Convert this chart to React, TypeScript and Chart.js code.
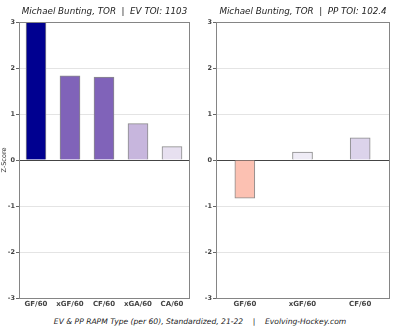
import React, { useEffect, useRef } from "react";
import { Chart, registerables } from "chart.js";

Chart.register(...registerables);

const evCategories = ["GF/60", "xGF/60", "CF/60", "xGA/60", "CA/60"];
const evValues = [3.0, 1.83, 1.8, 0.79, 0.29];
const evColors = ["#000090", "#8063b9", "#8063b9", "#c7b6dd", "#e7e0f0"];

const ppCategories = ["GF/60", "xGF/60", "CF/60"];
const ppValues = [-0.83, 0.17, 0.48];
const ppColors = ["#fcc1b2", "#efecf6", "#dcd3eb"];

const yTicks = [-3, -2, -1, 0, 1, 2, 3];

const evTitle = "Michael Bunting, TOR  |  EV TOI: 1103";
const ppTitle = "Michael Bunting, TOR  |  PP TOI: 102.4";
const footer = "EV & PP RAPM Type (per 60), Standardized, 21-22    |    Evolving-Hockey.com";
const yTitle = "Z-Score";

const FONT = "'DejaVu Sans', sans-serif";

const framePlugin = {
  id: "frame",
  afterDraw(chart: any) {
    const { ctx, chartArea } = chart;
    ctx.save();
    ctx.strokeStyle = "#858585";
    ctx.lineWidth = 1;
    ctx.strokeRect(
      Math.round(chartArea.left) + 0.5,
      Math.round(chartArea.top) + 0.5,
      Math.round(chartArea.right - chartArea.left),
      Math.round(chartArea.bottom - chartArea.top)
    );
    const t = chart.options.plugins.panelTitle;
    if (t && t.text) {
      ctx.fillStyle = "#222";
      ctx.font = `italic 8.75px ${FONT}`;
      ctx.textAlign = "center";
      ctx.textBaseline = "middle";
      ctx.fillText(t.text, (chartArea.left + chartArea.right) / 2 + 0.5, 12);
    }
    ctx.restore();
  },
};

function Panel(props: {
  categories: string[];
  values: number[];
  colors: string[];
  title: string;
  yLabel?: string;
  yWidth: number;
  left: number;
}) {
  const ref = useRef<HTMLCanvasElement>(null);
  useEffect(() => {
    const chart = new Chart(ref.current!, {
      type: "bar",
      data: {
        labels: props.categories,
        datasets: [
          {
            data: props.values,
            backgroundColor: props.colors,
            borderColor: "#8a8a8a",
            borderWidth: 1,
            barThickness: 20,
          },
        ],
      },
      plugins: [framePlugin],
      options: {
        animation: false,
        responsive: false,
        maintainAspectRatio: false,
        layout: { padding: { top: 22, right: 11, bottom: 0, left: 0 } },
        plugins: {
          legend: { display: false },
          tooltip: { enabled: false },
          title: { display: false },
          panelTitle: { text: props.title },
        } as any,
        scales: {
          x: {
            grid: { display: false, drawTicks: false },
            border: { display: false },
            ticks: {
              font: { family: FONT, size: 7, weight: "bold" },
              color: "#444",
              maxRotation: 0,
              autoSkip: false,
              padding: 2,
            },
            afterFit: (s: any) => {
              s.height = 17;
            },
          },
          y: {
            min: -3,
            max: 3,
            afterBuildTicks: (s: any) => {
              s.ticks = yTicks.map((v) => ({ value: v }));
            },
            grid: {
              color: (c: any) =>
                c.tick && c.tick.value === 0 ? "#444" : "#e4e4e4",
              lineWidth: 1,
              drawTicks: true,
              tickLength: 3,
              tickColor: "#666",
            },
            border: { display: false },
            ticks: {
              font: { family: FONT, size: 6.5, weight: "bold" },
              color: "#444",
              padding: 1,
            },
            title: {
              display: !!props.yLabel,
              text: props.yLabel || "",
              font: { family: FONT, size: 6.5 },
              color: "#333",
              padding: 0,
            },
            afterFit: (s: any) => {
              s.width = props.yWidth;
            },
          },
        },
      },
    });
    return () => chart.destroy();
  }, []);
  return (
    <canvas
      ref={ref}
      width={200}
      height={315}
      style={{ position: "absolute", left: props.left, top: 0, width: 200, height: 315 }}
    />
  );
}

export default function App() {
  return (
    <div
      style={{
        position: "fixed",
        left: 0,
        top: 0,
        width: 400,
        height: 333,
        background: "#fff",
        overflow: "hidden",
      }}
    >
      <Panel
        categories={evCategories}
        values={evValues}
        colors={evColors}
        title={evTitle}
        yLabel={yTitle}
        yWidth={19}
        left={0}
      />
      <Panel
        categories={ppCategories}
        values={ppValues}
        colors={ppColors}
        title={ppTitle}
        yWidth={16}
        left={200}
      />
      <div
        style={{
          position: "absolute",
          left: 0,
          top: 315,
          width: 400,
          textAlign: "center",
          fontFamily: FONT,
          fontStyle: "italic",
          fontSize: 7.6,
          color: "#222",
          whiteSpace: "pre",
          lineHeight: "14px",
        }}
      >
        {footer}
      </div>
    </div>
  );
}
